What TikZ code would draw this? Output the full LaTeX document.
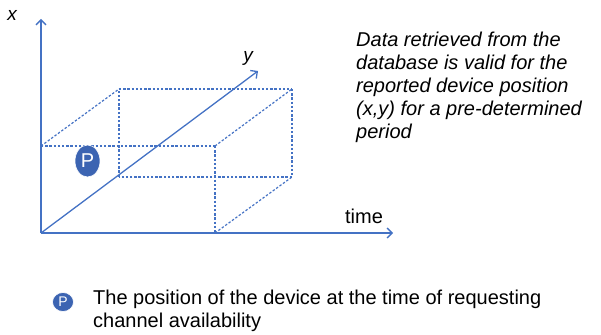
\documentclass[tikz,border=0pt]{standalone}
\usepackage{fontspec}
\setmainfont{Liberation Sans}
\usetikzlibrary{arrows.meta,shapes.geometric}
\definecolor{axisblue}{RGB}{68,114,196}
\definecolor{dotblue}{RGB}{60,100,178}

\begin{document}
\begin{tikzpicture}[x=1pt,y=-1pt,
  >={Straight Barb[length=5pt,width=10pt]},
  axis/.style={axisblue,line width=1.3pt},
  boxline/.style={axisblue,line width=1.2pt,dash pattern=on 2.4pt off 1.8pt},
  marker/.style={ellipse,fill=dotblue,draw=white,line width=0.6pt,text=white,inner sep=0pt},
  lbl/.style={font=\fontsize{20}{23}\selectfont}]

\useasboundingbox (0,0) rectangle (601,334);

%--- Оси ---
\coordinate (O) at (41,233);
\coordinate (xtip) at (41,19);
\coordinate (ytip) at (258,71);
\coordinate (ttip) at (393,233);
\draw[axis,->] (O) -- (xtip);
\draw[axis,->] (O) -- (ytip);
\draw[axis,->] (O) -- (ttip);

\node[lbl,font=\fontsize{19}{22}\selectfont\itshape] (xlab) at (12,15) {x};
\node[lbl,font=\fontsize{19}{22}\selectfont\itshape] (ylab) at (248,58) {y};
\node[lbl,anchor=base] (tlab) at (364,223) {time};

%--- Параллелепипед ---
\coordinate (F1) at (41,146);
\coordinate (F2) at (215,146);
\coordinate (F3) at (215,233);
\coordinate (B1) at (119,89);
\coordinate (B2) at (292,89);
\coordinate (B3) at (292,177);
\coordinate (B4) at (119,177);
\foreach \a/\b in {F1/F2,F2/F3,F1/B1,F2/B2,F3/B3,B1/B2,B2/B3,B3/B4,B4/B1}
  \draw[boxline] (\a) -- (\b);

%--- Точка P ---
\node[marker,minimum width=25pt,minimum height=32pt,font=\fontsize{20}{20}\selectfont] (P) at (87.5,161) {P};

%--- Пояснение (base = последняя строка) ---
\node[lbl,font=\fontsize{20}{23}\selectfont\itshape,anchor=base west,align=left,inner sep=0pt] (note) at (356,138)
  {Data retrieved from the\\database is valid for the\\reported device position\\(x,y) for a pre-determined\\period};

%--- Легенда ---
\node[marker,minimum width=21pt,minimum height=19pt,font=\fontsize{14}{14}\selectfont] (keyP) at (63,302) {P};
\node[lbl,anchor=base west,align=left,inner sep=0pt] (keytext) at (93,327)
  {The position of the device at the time of requesting\\channel availability};

\end{tikzpicture}
\end{document}
